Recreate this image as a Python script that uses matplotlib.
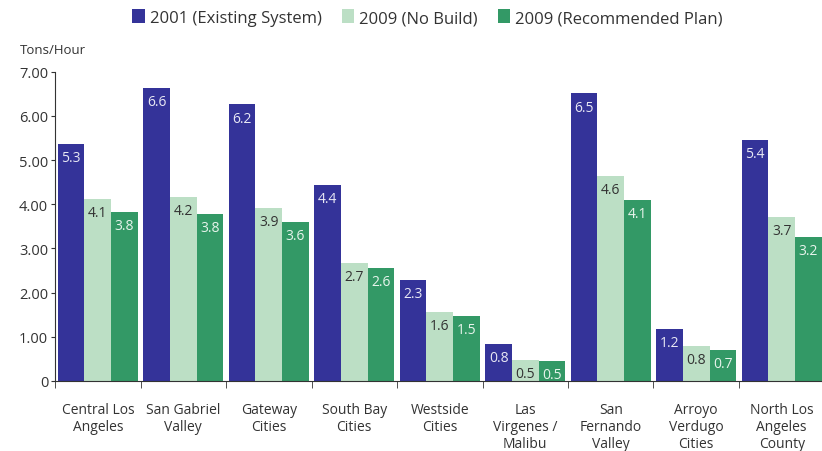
import matplotlib.pyplot as plt
import numpy as np

regions = ["Central Los\nAngeles", "San Gabriel\nValley", "Gateway\nCities",
           "South Bay\nCities", "Westside\nCities", "Las\nVirgenes /\nMalibu",
           "San\nFernando\nValley", "Arroyo\nVerdugo\nCities", "North Los\nAngeles\nCounty"]
series = ["2001 (Existing System)", "2009 (No Build)", "2009 (Recommended Plan)"]
# bar heights, printed labels kept separately
existing = [5.36, 6.64, 6.26, 4.44, 2.29, 0.84, 6.51, 1.18, 5.45]
no_build = [4.13, 4.17, 3.92, 2.68, 1.56, 0.48, 4.64, 0.79, 3.72]
plan = [3.83, 3.79, 3.60, 2.56, 1.47, 0.46, 4.10, 0.71, 3.27]
existing_lbl = ["5.3", "6.6", "6.2", "4.4", "2.3", "0.8", "6.5", "1.2", "5.4"]
no_build_lbl = ["4.1", "4.2", "3.9", "2.7", "1.6", "0.5", "4.6", "0.8", "3.7"]
plan_lbl = ["3.8", "3.8", "3.6", "2.6", "1.5", "0.5", "4.1", "0.7", "3.2"]

colors = ["#343399", "#bcdfc5", "#339966"]
txt_colors = ["#e8e8f4", "#333333", "#e8f4ec"]
dark = "#333333"
plt.rcParams['font.family'] = ['Open Sans', 'DejaVu Sans']

fig = plt.figure(figsize=(8.22, 4.52), dpi=100)
ax = fig.add_axes([0.067, 0.155, 0.936, 0.684])

x = np.arange(len(regions))
w = 0.312
data = [existing, no_build, plan]
labels = [existing_lbl, no_build_lbl, plan_lbl]
for i in range(3):
    pos = x + (i - 1) * w
    ax.bar(pos, data[i], width=w, color=colors[i], label=series[i])
    for p, v, l in zip(pos, data[i], labels[i]):
        ax.text(p, v - 0.14, l, ha="center", va="top", fontsize=10, color=txt_colors[i])

ax.set_xlim(-0.5, 8.5)
ax.set_ylim(0, 7)
ax.set_yticks(range(8))
ax.set_yticklabels(["0"] + ["%.2f" % v for v in range(1, 8)], fontsize=10.5, color=dark)
ax.set_xticks(x)
ax.set_xticklabels(regions, fontsize=10, color=dark, linespacing=1.2)
ax.set_xticks(np.arange(-0.5, 9, 1), minor=True)
ax.tick_params(axis="x", which="major", length=0, pad=15)
ax.tick_params(axis="x", which="minor", length=5, color=dark, direction="out")
ax.tick_params(axis="y", length=3, color=dark, pad=2)
for s in ["top", "right"]:
    ax.spines[s].set_visible(False)
for s in ["left", "bottom"]:
    ax.spines[s].set_color(dark)

fig.text(0.024, 0.88, "Tons/Hour", fontsize=9.5, color=dark)
fig.legend(loc="upper center", bbox_to_anchor=(0.52, 1.01), ncol=3, frameon=False,
           fontsize=12, handlelength=0.75, handleheight=0.9, handletextpad=0.3,
           columnspacing=1.2, labelcolor=dark)

fig.savefig("out.png", dpi=100)
